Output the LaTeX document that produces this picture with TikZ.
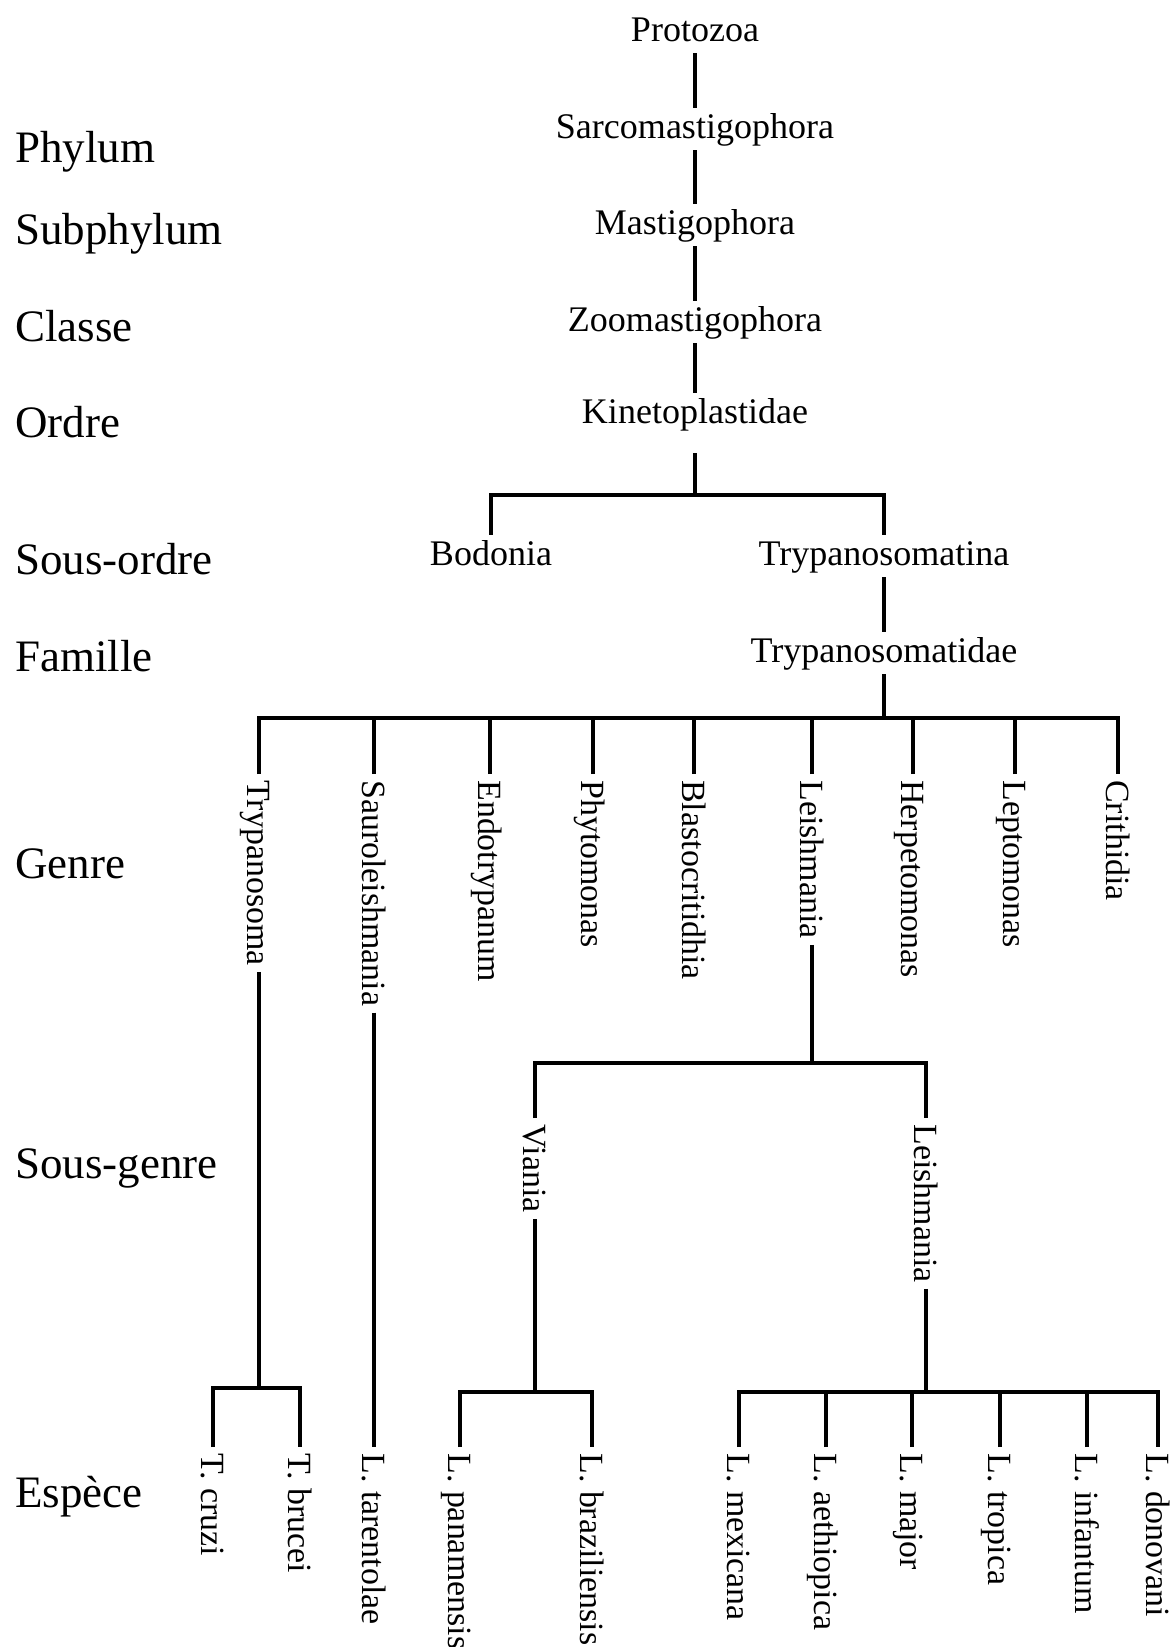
\documentclass[tikz,border=0pt]{standalone}
\usepackage{fontspec}
\setmainfont{Liberation Serif}
\usetikzlibrary{positioning}

\begin{document}
\begin{tikzpicture}[
    x=0.02cm, y=-0.02cm,
    taxon/.style={anchor=base, font=\fontsize{20.5}{24}\selectfont, inner sep=3.4pt, text height=13.7pt, text depth=3.5pt},
    genus/.style={rotate=-90, anchor=west, font=\fontsize{19.3}{23}\selectfont, inner sep=3.4pt, text height=12.9pt, text depth=0pt},
    rank/.style={anchor=base west, font=\fontsize{25.6}{30}\selectfont, inner sep=0pt},
    branch/.style={line width=2.2pt}
]
\useasboundingbox (0,0) rectangle (1173,1647);

% Ranks
\node[rank] (rphylum) at (15,162) {Phylum};
\node[rank] (rsubphylum) at (15,244) {Subphylum};
\node[rank] (rclasse) at (15,341) {Classe};
\node[rank] (rordre) at (15,437) {Ordre};
\node[rank] (rsousordre) at (15,574) {Sous-ordre};
\node[rank] (rfamille) at (15,671) {Famille};
\node[rank] (rgenre) at (15,878) {Genre};
\node[rank] (rsousgenre) at (15,1178) {Sous-genre};
\node[rank] (respece) at (15,1507) {Espèce};

% Upper taxa
\node[taxon] (protozoa) at (695,41) {Protozoa};
\node[taxon] (sarco) at (695,138) {Sarcomastigophora};
\node[taxon] (mastigo) at (695,234) {Mastigophora};
\node[taxon] (zoomasti) at (695,331) {Zoomastigophora};
\node[taxon] (kineto) at (695,423) {Kinetoplastidae};
\node[taxon] (bodonia) at (491,565) {Bodonia};
\node[taxon] (trypina) at (884,565) {Trypanosomatina};
\node[taxon] (trypidae) at (884,662) {Trypanosomatidae};

\coordinate (kbar) at (695,495);
\coordinate (fbar) at (884,718);

% Genera
\node[genus] (tryp) at (259,774) {Trypanosoma};
\node[genus] (sauro) at (374,774) {Sauroleishmania};
\node[genus] (endo) at (490,774) {Endotrypanum};
\node[genus] (phyto) at (593,774) {Phytomonas};
\node[genus] (blasto) at (694,774) {Blastocritidhia};
\node[genus] (leish) at (812,774) {Leishmania};
\node[genus] (herpe) at (913,774) {Herpetomonas};
\node[genus] (lepto) at (1015,774) {Leptomonas};
\node[genus] (crith) at (1118,774) {Crithidia};

% Sub-genera
\node[genus] (viania) at (535,1118) {Viania};
\node[genus] (lsub) at (926,1118) {Leishmania};

\coordinate (sgbar) at (812,1063);
\coordinate (tbar) at (259,1388);
\coordinate (vbar) at (535,1392);
\coordinate (lbar) at (926,1392);

% Species
\node[genus] (tcruzi) at (213,1447) {T. cruzi};
\node[genus] (tbrucei) at (300,1447) {T. brucei};
\node[genus] (ltar) at (374,1447) {L. tarentolae};
\node[genus] (lpan) at (460,1447) {L. panamensis};
\node[genus] (lbraz) at (592,1447) {L. braziliensis};
\node[genus] (lmex) at (739,1447) {L. mexicana};
\node[genus] (laeth) at (826,1447) {L. aethiopica};
\node[genus] (lmaj) at (912,1447) {L. major};
\node[genus] (ltrop) at (1000,1447) {L. tropica};
\node[genus] (linf) at (1087,1447) {L. infantum};
\node[genus] (ldon) at (1158,1447) {L. donovani};

% Branches
\draw[branch] (protozoa) -- (sarco);
\draw[branch] (sarco) -- (mastigo);
\draw[branch] (mastigo) -- (zoomasti);
\draw[branch] (zoomasti) -- (kineto);
\draw[branch, shorten <=10pt] (kineto.south) -- (kbar);
\draw[branch] (bodonia.north) |- (kbar) -| (trypina.north);
\draw[branch] (trypina) -- (trypidae);
\draw[branch] (trypidae) -- (fbar);
\draw[branch] (tryp.west) |- (fbar) -| (crith.west);
\foreach \g in {sauro,endo,phyto,blasto,leish,herpe,lepto}
    \draw[branch] (\g.west) -- (\g.west |- fbar);

\draw[branch] (tryp.east) -- (tbar);
\draw[branch] (tcruzi.west) |- (tbar) -| (tbrucei.west);
\draw[branch] (sauro.east) -- (ltar.west);

\draw[branch] (leish.east) -- (sgbar);
\draw[branch] (viania.west) |- (sgbar) -| (lsub.west);
\draw[branch] (viania.east) -- (vbar);
\draw[branch] (lpan.west) |- (vbar) -| (lbraz.west);
\draw[branch] (lsub.east) -- (lbar);
\draw[branch] (lmex.west) |- (lbar) -| (ldon.west);
\foreach \s in {laeth,lmaj,ltrop,linf}
    \draw[branch] (\s.west) -- (\s.west |- lbar);

\end{tikzpicture}
\end{document}
